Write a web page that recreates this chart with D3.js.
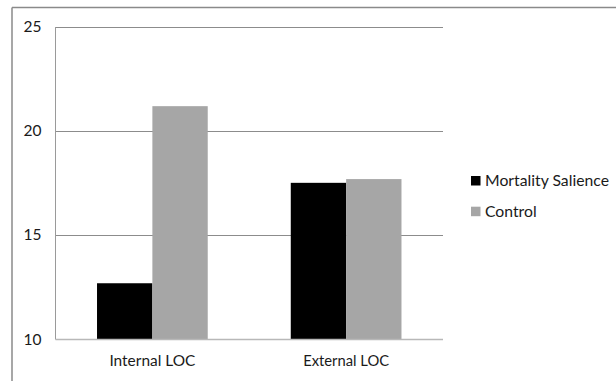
<!DOCTYPE html>
<html>
<head>
<meta charset="utf-8">
<script src="https://cdn.jsdelivr.net/npm/d3@7/dist/d3.min.js"></script>
<style>
html,body{margin:0;padding:0;background:#fff;}
svg{display:block;}
text{font-family:Lato,"Open Sans",sans-serif;fill:#1a1a1a;}
</style>
</head>
<body>
<svg id="chart" width="616" height="381"></svg>
<script>
const categories = ["Internal LOC", "External LOC"];
const seriesNames = ["Mortality Salience", "Control"];
const mortalitySalience = [12.7, 17.52];
const control = [21.2, 17.7];
const yTicks = [10, 15, 20, 25];
const colors = ["#000000", "#a6a6a6"];

const svg = d3.select("#chart");
const W = 616, H = 381;
const plot = {left: 55.5, right: 443, top: 27, bottom: 339.5};

// fit a font size so that a text element reaches a target width
function fitSize(sel, target, base) {
  sel.style("font-size", base + "px");
  const w = sel.node().getComputedTextLength();
  sel.style("font-size", (base * target / w).toFixed(2) + "px");
}

// outer chart border (top and left visible)
svg.append("line").attr("x1", 12).attr("x2", W).attr("y1", 7.5).attr("y2", 7.5)
  .attr("stroke", "#8a8a8a").attr("stroke-width", 1.5);
svg.append("line").attr("x1", 12).attr("x2", 12).attr("y1", 7.5).attr("y2", H)
  .attr("stroke", "#8a8a8a").attr("stroke-width", 1.5);

const x0 = d3.scaleBand().domain(categories).range([plot.left, plot.right]);
const y = d3.scaleLinear().domain([10, 25]).range([plot.bottom, plot.top]);

// gridlines
svg.append("g").selectAll("line").data(yTicks.filter(t => t !== 10)).join("line")
  .attr("x1", plot.left).attr("x2", plot.right)
  .attr("y1", d => Math.round(y(d)) + 0.5).attr("y2", d => Math.round(y(d)) + 0.5)
  .attr("stroke", "#8c8c8c").attr("stroke-width", 1);

// bars
const groupW = x0.bandwidth();
const barW = groupW / (2 + 1.5);
const x1 = d3.scaleBand().domain(seriesNames).range([0, barW * 2]);
const data = [mortalitySalience, control];
categories.forEach((c, i) => {
  const gx = x0(c) + (groupW - barW * 2) / 2;
  seriesNames.forEach((s, j) => {
    const v = data[j][i];
    svg.append("rect")
      .attr("x", gx + x1(s)).attr("width", x1.bandwidth())
      .attr("y", y(v)).attr("height", y(10) - y(v))
      .attr("fill", colors[j]);
  });
});

// left axis line
svg.append("line").attr("x1", plot.left).attr("x2", plot.left)
  .attr("y1", plot.top).attr("y2", plot.bottom)
  .attr("stroke", "#9a9a9a").attr("stroke-width", 1);
// bottom axis line
svg.append("line").attr("x1", plot.left).attr("x2", plot.right)
  .attr("y1", plot.bottom).attr("y2", plot.bottom)
  .attr("stroke", "#b8b8b8").attr("stroke-width", 1.5);

// y tick labels
const yAxis = d3.axisLeft(y).tickValues(yTicks).tickSize(0).tickPadding(14).tickFormat(d3.format("d"));
const ya = svg.append("g").attr("transform", `translate(${plot.left},0)`).call(yAxis);
ya.select(".domain").remove();
ya.selectAll("text").attr("fill", "#1a1a1a").attr("dy", "0.3em").attr("x", -14);
ya.selectAll("text").each(function(){ fitSize(d3.select(this), 18, 15); });

// x labels
const xAxis = d3.axisBottom(x0).tickSize(0).tickPadding(16);
const xa = svg.append("g").attr("transform", `translate(0,${plot.bottom})`).call(xAxis);
xa.select(".domain").remove();
xa.selectAll("text").attr("fill", "#1a1a1a");
xa.selectAll("text").each(function(){ fitSize(d3.select(this), 86, 15); });

// legend
const lg = svg.append("g").attr("transform", "translate(471,176)");
let legendSize = null;
seriesNames.forEach((s, j) => {
  const g = lg.append("g").attr("transform", `translate(0,${j * 30.7})`);
  g.append("rect").attr("width", 9.5).attr("height", 9.5).attr("fill", colors[j]);
  const t = g.append("text").attr("x", 14).attr("y", 10).text(s);
  if (j === 0) { fitSize(t, 124, 15); legendSize = t.style("font-size"); }
  else t.style("font-size", legendSize);
});
</script>
</body>
</html>
